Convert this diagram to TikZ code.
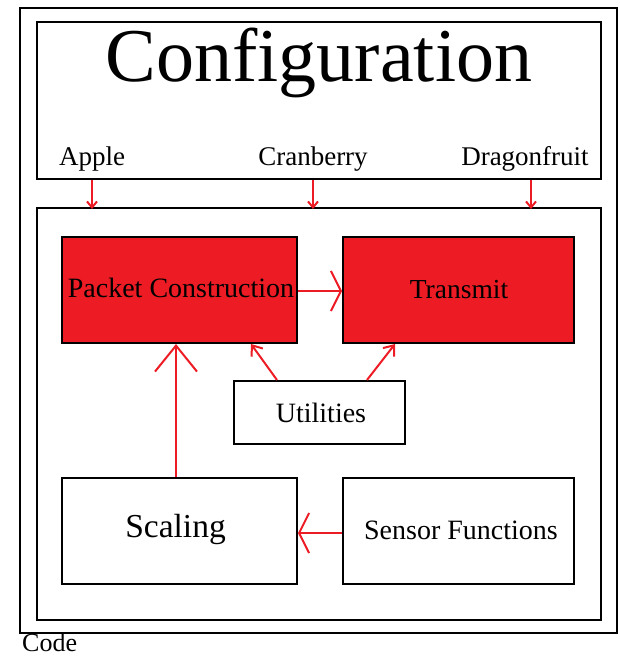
\documentclass[tikz,border=0pt]{standalone}
\usepackage{fontspec}
\setmainfont{Liberation Serif}
\usetikzlibrary{arrows.meta}
\definecolor{myred}{HTML}{ED1C24}
\tikzset{
  box/.style={draw=black, line width=2pt, minimum width=#1},
  redbox/.style={box=235pt, fill=myred, minimum height=106pt},
  plainbox/.style={box=235pt, minimum height=106pt},
  lbl/.style={inner sep=0pt, font=\fontsize{27}{27}\selectfont},
  arr/.style={draw=myred, line width=2pt},
}
\begin{document}
\begin{tikzpicture}[x=1pt,y=-1pt]
\useasboundingbox (0,0) rectangle (619,656);
\node[box=597pt, minimum height=625pt] (outer) at (318.5,320.5) {};
\node[box=564pt, minimum height=157pt] (cfg) at (319,100.5) {};
\node[box=564pt, minimum height=412pt] (code) at (319,414) {};
\node[lbl, font=\fontsize{76}{76}\selectfont] (title) at (319,63) {Configuration};
\node[lbl] (apple) at (92,159) {Apple};
\node[lbl] (cran) at (313,159) {Cranberry};
\node[lbl] (dragon) at (525,159) {Dragonfruit};
\node[lbl, anchor=base west, font=\fontsize{26}{26}\selectfont] (codelbl) at (22,651) {Code};

\node[redbox] (packet) at (179.5,290) {};
\node[lbl, font=\fontsize{28}{28}\selectfont] (packett) at (181,288) {Packet Construction};
\node[redbox, minimum width=231pt] (transmit) at (458.5,290) {};
\node[lbl, font=\fontsize{27.5}{27.5}\selectfont] (transmitt) at (459,290) {Transmit};
\node[box=171pt, minimum height=63pt] (util) at (319.5,412.5) {};
\node[lbl, font=\fontsize{28}{28}\selectfont] (utilt) at (321,413) {Utilities};
\node[plainbox] (scaling) at (179.5,530.5) {};
\node[lbl, font=\fontsize{33.5}{33.5}\selectfont] (scalingt) at (175.5,529) {Scaling};
\node[plainbox, minimum width=231pt] (sensor) at (458.5,530.5) {};
\node[lbl, font=\fontsize{28}{28}\selectfont] (sensort) at (461,530) {Sensor Functions};

% top arrows
\draw[arr, -{Straight Barb[length=6pt,width=10pt]}] (cfg.south -| apple) -- ([yshift=-2pt]code.north -| apple);
\draw[arr, -{Straight Barb[length=6pt,width=10pt]}] (cfg.south -| cran) -- ([yshift=-2pt]code.north -| cran);
\draw[arr, -{Straight Barb[length=6pt,width=10pt]}] ([xshift=6pt]cfg.south -| dragon) -- ([xshift=6pt,yshift=-2pt]code.north -| dragon);

% internal arrows
\draw[arr, -{Straight Barb[length=10pt,width=40pt]}] (packet.east |- 0,291) -- (transmit.west |- 0,291);
\draw[arr, -{Straight Barb[length=26pt,width=42pt]}] (scaling.north -| 176,0) -- (packet.south -| 176,0);
\draw[arr, -{Straight Barb[length=10pt,width=40pt]}] (sensor.west |- 0,533) -- (scaling.east |- 0,533);
\draw[arr, -{Straight Barb[length=9pt,width=14pt]}] (util.north -| 277,0) -- (packet.south -| 251,0);
\draw[arr, -{Straight Barb[length=9pt,width=14pt]}] (util.north -| 367,0) -- (transmit.south -| 395,0);
\end{tikzpicture}
\end{document}
